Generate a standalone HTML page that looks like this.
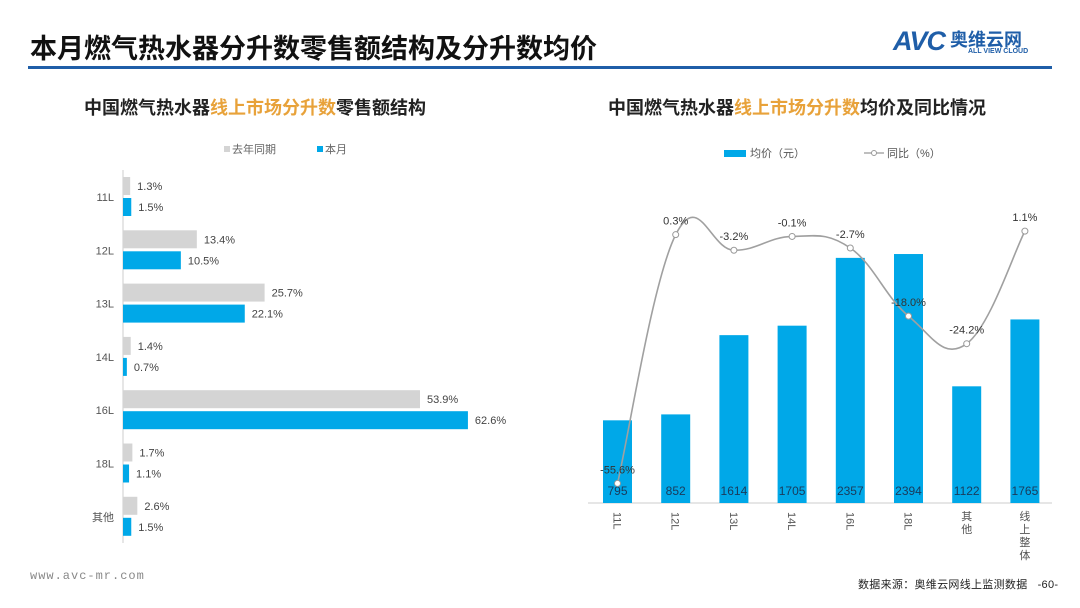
<!DOCTYPE html>
<html><head><meta charset="utf-8">
<style>
body{margin:0;width:1080px;height:608px;background:#fff;overflow:hidden;font-family:"Liberation Sans","Noto Sans CJK SC",sans-serif;position:relative}
.t{position:absolute;white-space:nowrap}
</style></head><body>
<div class="t" style="left:30px;top:27px;font-size:27px;font-weight:bold;color:#111">本月燃气热水器分升数零售额结构及分升数均价</div>
<div style="position:absolute;left:28px;top:66px;width:1024px;height:3px;background:#1f5ea8"></div>
<div class="t" style="left:893px;top:26px;color:#1f5ea8;font-size:27px;font-weight:bold;font-style:italic;letter-spacing:-1px">AVC<span style="font-size:18px;font-style:normal;letter-spacing:0;vertical-align:4px"> 奥维云网</span></div>
<div class="t" style="left:968px;top:48px;color:#1f5ea8;font-size:7px;font-weight:bold">ALL VIEW CLOUD</div>
<div class="t" style="left:84px;top:94px;font-size:18px;font-weight:bold;color:#222">中国燃气热水器<span style="color:#e8a23a">线上市场分升数</span>零售额结构</div>
<div class="t" style="left:608px;top:94px;font-size:18px;font-weight:bold;color:#222">中国燃气热水器<span style="color:#e8a23a">线上市场分升数</span>均价及同比情况</div>
<div class="t" style="left:30px;top:569px;font-size:12px;color:#888;font-family:'Liberation Mono',monospace;letter-spacing:1px">www.avc-mr.com</div>
<div class="t" style="left:858px;top:576px;font-size:11px;color:#222;letter-spacing:0.3px">数据来源：奥维云网线上监测数据 &nbsp;&nbsp;-60-</div>

<svg id="lc" width="1080" height="608" style="position:absolute;left:0;top:0"></svg>

<script>
const hCats=["11L","12L","13L","14L","16L","18L","其他"];
const hLast=[1.3,13.4,25.7,1.4,53.9,1.7,2.6];
const hNow=[1.5,10.5,22.1,0.7,62.6,1.1,1.5];
const vCats=["11L","12L","13L","14L","16L","18L","其他","线上整体"];
const vPrice=[795,852,1614,1705,2357,2394,1122,1765];
const vYoy=[-55.6,0.3,-3.2,-0.1,-2.7,-18.0,-24.2,1.1];
const vYoyLabels=["-55.6%","0.3%","-3.2%","-0.1%","-2.7%","-18.0%","-24.2%","1.1%"];

const NS="http://www.w3.org/2000/svg";
const svg=document.getElementById('lc');
function mk(tag,attrs,txt){const e=document.createElementNS(NS,tag);for(const k in attrs)e.setAttribute(k,attrs[k]);if(txt!==undefined)e.textContent=txt;svg.appendChild(e);return e;}

let e=mk('rect',{x:224,y:146,width:6,height:6,fill:'#d4d4d4'});


e=mk('text',{x:232,y:153,'font-size':11,fill:'#666'},'去年同期');


e=mk('rect',{x:317,y:146,width:6,height:6,fill:'#00a8e8'});


e=mk('text',{x:325,y:153,'font-size':11,fill:'#666'},'本月');



const hx0=123, hpx=5.51, hy0=197, hstep=53.3;
const xH=v=>hx0+v*hpx;
e=mk('line',{x1:hx0,y1:170,x2:hx0,y2:543,stroke:'#ccc','stroke-width':1});


hCats.forEach((c,i)=>{
  const cy=hy0+i*hstep;
  let t=mk('text',{x:114,y:cy+4,'font-size':11,fill:'#555','text-anchor':'end'},c);
  
  
  let r=mk('rect',{x:hx0,y:cy-20,width:xH(hLast[i])-hx0,height:18,fill:'#d4d4d4'});
  
  
  t=mk('text',{x:xH(hLast[i])+7,y:cy-7,'font-size':11,fill:'#444'},hLast[i].toFixed(1)+'%');
  
  
  r=mk('rect',{x:hx0,y:cy+1,width:xH(hNow[i])-hx0,height:18,fill:'#00a8e8'});
  
  
  t=mk('text',{x:xH(hNow[i])+7,y:cy+14,'font-size':11,fill:'#444'},hNow[i].toFixed(1)+'%');
  
  
});

e=mk('rect',{x:724,y:150,width:22,height:7,fill:'#00a8e8'});


e=mk('text',{x:750,y:157,'font-size':11,fill:'#555'},'均价（元）');


e=mk('line',{x1:864,y1:153,x2:884,y2:153,stroke:'#999','stroke-width':1.3});


e=mk('circle',{cx:874,cy:153,r:2.5,fill:'#fff',stroke:'#999'});


e=mk('text',{x:887,y:157,'font-size':11,fill:'#555'},'同比（%）');



const vx0=617.5, vstep=58.2, base=503, ppx=0.104, bw=29;
const xV=i=>vx0+i*vstep;
const yP=v=>base-v*ppx;
const yY=v=>236-v*4.45;
e=mk('line',{x1:588,y1:base,x2:1052,y2:base,stroke:'#ccc','stroke-width':1});


vCats.forEach((c,i)=>{
  const r=mk('rect',{x:xV(i)-bw/2,y:yP(vPrice[i]),width:bw,height:base-yP(vPrice[i]),fill:'#00a8e8'});
  
  
  let t=mk('text',{x:xV(i),y:495,'font-size':12,fill:'#1a3a5a','text-anchor':'middle'},vPrice[i]);
  
  
  if(/L$/.test(c)){
    t=mk('text',{x:xV(i)-4,y:512,'font-size':11,fill:'#555',transform:`rotate(90 ${xV(i)-4} 512)`},c);
  } else {
    t=mk('text',{x:xV(i),y:520,'font-size':11,fill:'#555','text-anchor':'middle'});
    [...c].forEach((ch,k)=>{const s=document.createElementNS(NS,'tspan');s.setAttribute('x',xV(i));s.setAttribute('dy',k?13:0);s.textContent=ch;t.appendChild(s);});
  }
  
  
});
const pts=vYoy.map((v,i)=>[xV(i),yY(v)]);
let d='M'+pts[0][0]+','+pts[0][1];
for(let i=0;i<pts.length-1;i++){
  const p0=pts[Math.max(0,i-1)],p1=pts[i],p2=pts[i+1],p3=pts[Math.min(pts.length-1,i+2)];
  const k=0.2;
  d+=` C${p1[0]+(p2[0]-p0[0])*k},${p1[1]+(p2[1]-p0[1])*k} ${p2[0]-(p3[0]-p1[0])*k},${p2[1]-(p3[1]-p1[1])*k} ${p2[0]},${p2[1]}`;
}
e=mk('path',{d:d,fill:'none',stroke:'#a0a0a0','stroke-width':1.6});


pts.forEach((p,i)=>{
  const c=mk('circle',{cx:p[0],cy:p[1],r:3,fill:'#fff',stroke:'#999','stroke-width':1});
  
  
  const t=mk('text',{x:p[0],y:p[1]-10,'font-size':11,fill:'#333','text-anchor':'middle'},vYoyLabels[i]);
  
  
});
</script>
</body></html>
